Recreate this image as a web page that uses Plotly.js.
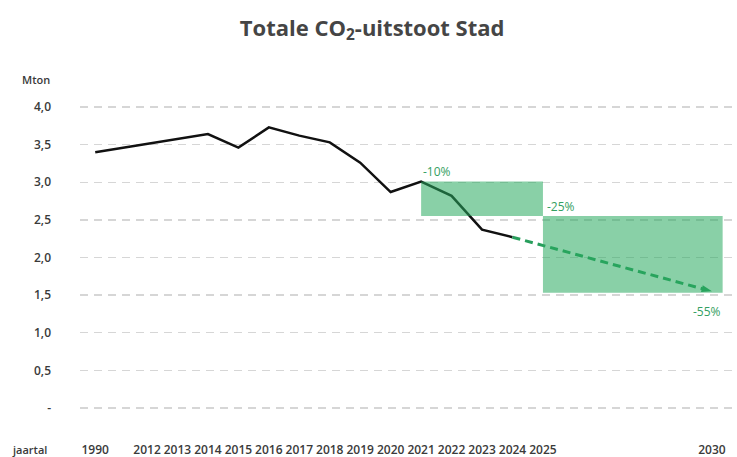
<!DOCTYPE html>
<html>
<head>
<meta charset="utf-8">
<script src="https://cdn.plot.ly/plotly-3.0.1.min.js"></script>
<style>html,body{margin:0;padding:0;background:#fff;}#chart{width:737px;height:457px;}</style>
</head>
<body>
<div id="chart"></div>
<script>
// ---- data ----
const years = [1990, 2012, 2013, 2014, 2015, 2016, 2017, 2018, 2019, 2020, 2021, 2022, 2023, 2024];
const emissions = [3.40, 3.51, 3.57, 3.64, 3.46, 3.73, 3.62, 3.53, 3.26, 2.87, 3.01, 2.82, 2.37, 2.27];
const projYears = [2024, 2030];
const projValues = [2.27, 1.55];
const tickYears = [1990, 2012, 2013, 2014, 2015, 2016, 2017, 2018, 2019, 2020, 2021, 2022, 2023, 2024, 2025, 2030];
const yTickVals = [0, 0.5, 1.0, 1.5, 2.0, 2.5, 3.0, 3.5, 4.0];
const yTickText = ['-', '0,5', '1,0', '1,5', '2,0', '2,5', '3,0', '3,5', '4,0'];
const targetLabels = ['-10%', '-25%', '-55%'];
const targetYears = [2021, 2025, 2030];
const targetReductions = [0.10, 0.25, 0.55];

// axis has irregular spacing: 1990 and 2030 sit at custom slots
const pos = y => (y === 1990 ? 2010.3 : (y === 2030 ? 2030.55 : y));

const base = emissions[0];
const v2021 = emissions[years.indexOf(2021)];
const t2025 = base * (1 - targetReductions[1]);
const t2030 = base * (1 - targetReductions[2]);

const green = 'rgb(40,170,95)';
const dashGreen = 'rgb(40,158,92)';
const textGreen = 'rgb(52,160,98)';
const fontFam = '"Open Sans", "Noto Sans", sans-serif';

const traces = [
  {
    x: years.map(pos), y: emissions, type: 'scatter', mode: 'lines',
    line: {color: '#111', width: 2.5}, hoverinfo: 'skip'
  },
  {
    x: projYears.map(pos), y: projValues, type: 'scatter', mode: 'lines+markers',
    line: {color: dashGreen, width: 3, dash: '8px,5px'},
    marker: {symbol: 'arrow', size: [1, 11], opacity: [0, 1], angleref: 'previous', color: dashGreen, line: {width: 0}},
    hoverinfo: 'skip'
  }
];

const shapes = [
  {type: 'rect', xref: 'x', yref: 'y', layer: 'above',
   x0: pos(targetYears[0]), x1: pos(targetYears[1]), y0: t2025, y1: v2021,
   fillcolor: green, opacity: 0.55, line: {width: 0}},
  {type: 'rect', xref: 'x', yref: 'y', layer: 'above',
   x0: pos(targetYears[1]), x1: pos(targetYears[2]) + 0.35, y0: t2030, y1: t2025,
   fillcolor: green, opacity: 0.55, line: {width: 0}}
];

const annotations = [
  {x: pos(targetYears[0]), y: v2021, xanchor: 'left', yanchor: 'bottom', yshift: 0, text: targetLabels[0],
   showarrow: false, font: {family: fontFam, size: 12, color: textGreen}},
  {x: pos(targetYears[1]), y: t2025, xanchor: 'left', yanchor: 'bottom', xshift: 2, yshift: -1, text: targetLabels[1],
   showarrow: false, font: {family: fontFam, size: 12, color: textGreen}},
  {x: pos(targetYears[2]) + 0.35, y: t2030, xanchor: 'right', yanchor: 'top', yshift: -8, text: targetLabels[2],
   showarrow: false, font: {family: fontFam, size: 12, color: textGreen}},
  {xref: 'paper', yref: 'paper', x: -0.067, y: 1.082, xanchor: 'center', yanchor: 'middle', text: 'Mton',
   showarrow: false, font: {family: fontFam, size: 11, color: '#3a3a3a', weight: 600}},
  {xref: 'paper', yref: 'paper', x: -0.077, y: -0.13, xanchor: 'center', yanchor: 'middle', text: 'jaartal',
   showarrow: false, font: {family: fontFam, size: 11, color: '#3a3a3a', weight: 600}}
];

const layout = {
  width: 737, height: 457,
  margin: {l: 80, r: 4, t: 105, b: 47},
  paper_bgcolor: '#fff', plot_bgcolor: '#fff',
  showlegend: false,
  title: {text: 'Totale CO<sub>2</sub>-uitstoot Stad', xref: 'container', yref: 'container',
          x: 0.505, y: 1 - 28 / 457, xanchor: 'center', yanchor: 'middle',
          font: {family: fontFam, size: 22, color: '#454545', weight: 700}},
  xaxis: {
    range: [2009.8, 2031.24], showgrid: false, zeroline: false, showline: false,
    tickmode: 'array', tickvals: tickYears.map(pos), ticktext: tickYears.map(String),
    ticks: '', ticklabelstandoff: 31, tickangle: 0,
    tickfont: {family: fontFam, size: 12, color: '#3a3a3a', weight: 600}
  },
  yaxis: {
    range: [-0.027, 4.027], showgrid: true, gridcolor: '#d6d6d6', gridwidth: 1.5, griddash: '8px,6px',
    zeroline: false, showline: false,
    tickmode: 'array', tickvals: yTickVals, ticktext: yTickText,
    ticks: '', ticklabelstandoff: 28,
    tickfont: {family: fontFam, size: 12, color: '#3a3a3a', weight: 600}
  },
  shapes: shapes,
  annotations: annotations
};

Plotly.newPlot('chart', traces, layout, {displayModeBar: false, staticPlot: true});
</script>
</body>
</html>
